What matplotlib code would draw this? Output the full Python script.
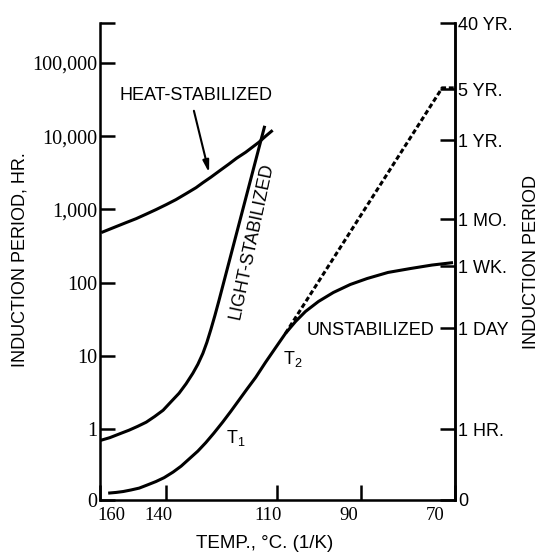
"""
Induction period vs temperature (Arrhenius-type plot) for stabilized / unstabilized polymer.
"""

import numpy as np
import matplotlib
matplotlib.use('Agg')
import matplotlib.pyplot as plt
import matplotlib.transforms as mtransforms

# temperatures in deg C, induction periods in hours
heat_temp = [159.6, 154.9, 151.8, 148.7, 145.7, 142.8, 139.8, 137.0, 134.1, 131.3,
             129.4, 127.2, 124.8, 122.4, 120.3, 117.9, 114.5, 112.8, 111.0]
heat_hours = [483, 583, 661, 749, 863, 994, 1163, 1360, 1642, 1982,
              2318, 2755, 3378, 4142, 4999, 6036, 8260, 9970, 12035]

light_temp = [160.0, 156.9, 154.9, 152.9, 150.9, 148.3, 145.7, 143.2, 140.7, 138.4,
              136.1, 134.1, 132.2, 130.8, 129.4, 128.3, 127.2, 126.1, 125.0, 113.0]
light_hours = [0.70, 0.766, 0.828, 0.896, 0.969, 1.092, 1.246, 1.489, 1.815, 2.37,
               3.094, 4.169, 5.794, 7.683, 10.85, 15.32, 23.04, 35.74, 57.22, 13860]

unstab_temp = [157.4, 154.9, 152.7, 150.3, 147.8, 145.4, 142.8, 140.4, 137.8, 135.5,
               133.3, 130.8, 128.6, 126.4, 124.0, 121.8, 119.7, 117.6, 115.3, 112.8,
               110.2, 107.8, 105.3, 102.9, 99.8, 96.3, 92.4, 88.6, 84.0, 79.2, 74.7, 70.4]
unstab_hours = [0.134, 0.137, 0.141, 0.148, 0.157, 0.173, 0.193, 0.218, 0.260, 0.313,
                0.390, 0.502, 0.655, 0.882, 1.25, 1.76, 2.48, 3.51, 5.11, 8.18,
                13.1, 20.3, 29.6, 40.5, 55.4, 73.5, 94.5, 114, 138, 156, 174, 188]

# extrapolation of the low-temperature branch from T2
extrap_temp = [107.8, 72.6, 70.0]
extrap_hours = [20.3, 45600, 45600]

# axis ticks
x_ticks_c = [160, 140, 110, 90, 70]
left_ticks = [0.108, 1, 10, 100, 1000, 10000, 100000, 350640]
left_labels = ['0', '1', '10', '100', '1,000', '10,000', '100,000', '']
right_ticks = [0.108, 1, 24, 168, 730, 8766, 43830, 350640]
right_labels = ['0', '1 HR.', '1 DAY', '1 WK.', '1 MO.', '1 YR.', '5 YR.', '40 YR.']


def inv(t):
    """deg C -> 1000/K"""
    return 1000.0 / (np.asarray(t, dtype=float) + 273.15)


SANS = 'Liberation Sans'
SERIF = 'Liberation Serif'
LW = 2.2

fig = plt.figure(figsize=(5.41, 5.54), dpi=100)
ax = fig.add_axes([100 / 541, 54 / 554, 355 / 541, 477 / 554])

ax.plot(inv(heat_temp), heat_hours, color='black', lw=LW, solid_capstyle='butt')
ax.plot(inv(light_temp), light_hours, color='black', lw=LW, solid_capstyle='butt')
ax.plot(inv(unstab_temp), unstab_hours, color='black', lw=LW, solid_capstyle='butt')
ax.plot(inv(extrap_temp), extrap_hours, color='black', lw=LW, linestyle=(0, (1.6, 0.9)))

ax.set_yscale('log')
ax.set_xlim(inv(160), inv(70))
ax.set_ylim(0.108, 350640)
ax.minorticks_off()

ax.set_xticks(inv(x_ticks_c))
ax.set_xticklabels([str(t) for t in x_ticks_c], fontfamily=SERIF, fontsize=13.5)
ax.set_yticks(left_ticks)
ax.set_yticklabels(left_labels, fontfamily=SERIF, fontsize=14.5)
ax.tick_params(axis='both', direction='in', length=11, width=1.8, color='black')
ax.tick_params(axis='y', pad=2)
ax.tick_params(axis='x', pad=5)

# nudge the x tick labels like in the original drawing
shifts = {'160': (-3, 'left'), '140': (-7, 'center'), '110': (-9, 'center'),
          '90': (-12, 'center'), '70': (-11, 'right')}
for lab in ax.get_xticklabels():
    dx, ha = shifts[lab.get_text()]
    lab.set_ha(ha)
    lab.set_transform(lab.get_transform() +
                      mtransforms.ScaledTranslation(dx / 100, 0, fig.dpi_scale_trans))

ax.spines['top'].set_visible(False)
for s in ['left', 'right', 'bottom']:
    ax.spines[s].set_linewidth(1.8)

ax2 = ax.twinx()
ax2.set_yscale('log')
ax2.set_ylim(ax.get_ylim())
ax2.minorticks_off()
ax2.set_yticks(right_ticks)
ax2.set_yticklabels(right_labels, fontfamily=SANS, fontsize=13)
ax2.tick_params(axis='y', direction='in', length=11, width=1.8, pad=2)
ax2.spines['top'].set_visible(False)
ax2.spines['right'].set_linewidth(1.8)

# curve labels
ax.text(inv(131.3), 35500, 'HEAT-STABILIZED', fontfamily=SANS, fontsize=13,
        ha='center', va='center')
ax.annotate('', xy=(inv(127.7), 3170), xytext=(inv(131.9), 22200),
            arrowprops=dict(arrowstyle='-|>,head_width=0.18,head_length=0.7',
                            color='black', lw=1.5, shrinkA=0, shrinkB=0))
ax.text(inv(116.4), 370, 'LIGHT-STABILIZED', fontfamily=SANS, fontsize=13,
        ha='center', va='center', rotation=78, rotation_mode='anchor')
ax.text(inv(87.9), 22.3, 'UNSTABILIZED', fontfamily=SANS, fontsize=13,
        ha='center', va='center')
ax.text(inv(106.1), 9.2, r'T$_\mathregular{2}$', fontfamily=SANS, fontsize=13,
        ha='center', va='center')
ax.text(inv(120.5), 0.75, r'T$_\mathregular{1}$', fontfamily=SANS, fontsize=13,
        ha='center', va='center')

# axis titles
fig.text(20 / 541, 1 - 260 / 554, 'INDUCTION PERIOD, HR.', fontfamily=SANS, fontsize=13,
         rotation=90, ha='center', va='center')
fig.text(532 / 541, 1 - 262 / 554, 'INDUCTION PERIOD', fontfamily=SANS, fontsize=13,
         rotation=90, ha='center', va='center')
fig.text(265 / 541, 1 - 543 / 554, 'TEMP., °C. (1/K)', fontfamily=SANS, fontsize=13.5,
         ha='center', va='center')

fig.savefig('out.png', dpi=100)
plt.close(fig)
